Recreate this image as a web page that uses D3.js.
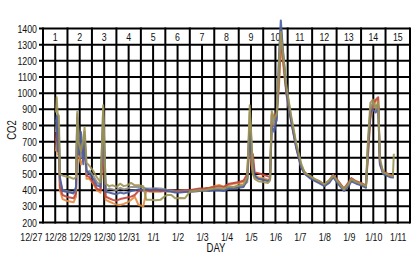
<!DOCTYPE html>
<html>
<head>
<meta charset="utf-8">
<script src="https://cdn.jsdelivr.net/npm/d3@7"></script>
<style>
  body { margin: 0; background: #fff; }
  svg { display: block; }
  text { font-family: "Liberation Sans", Arial, sans-serif; fill: #111; }
</style>
</head>
<body>
<div id="chart"></div>
<script>
// DATA
var dateLabels = ["12/27","12/28","12/29","12/30","12/31","1/1","1/2","1/3","1/4","1/5","1/6","1/7","1/8","1/9","1/10","1/11"];
var dayNumbers = ["1","2","3","4","5","6","7","8","9","10","11","12","13","14","15"];
var yTicks = [200,300,400,500,600,700,800,900,1000,1100,1200,1300,1400];

// sample times, in days from 12/27
var times = [1.03,1.06,1.10,1.15,1.19,1.3,1.45,1.6,1.75,1.85,
  1.9,1.95,2.05,2.15,2.2,2.28,2.4,2.55,2.7,2.85,
  2.92,2.96,3.02,3.06,3.2,3.35,3.5,3.65,3.8,3.95,
  4.1,4.25,4.4,4.6,4.72,4.9,5.1,5.3,5.5,5.6,
  5.75,5.9,6.1,6.3,6.5,6.7,6.9,7.1,7.3,7.5,
  7.7,7.9,8.1,8.3,8.5,8.7,8.85,8.95,9.02,9.08,
  9.15,9.3,9.5,9.7,9.78,9.85,9.95,10.05,10.15,10.22,
  10.3,10.45,10.65,10.85,11.05,11.2,11.4,11.6,11.8,12.0,
  12.2,12.36,12.55,12.8,13.0,13.1,13.3,13.5,13.7,13.78,
  13.88,13.98,14.1,14.2,14.27,14.4,14.55,14.7,14.8,14.84];

var olive = [880,975,870,860,500,490,485,480,470,480,
  885,700,640,720,790,570,550,520,480,450,
  700,925,600,440,425,430,420,440,425,430,
  445,430,430,425,340,340,338,340,365,370,
  370,350,352,350,390,395,398,400,405,410,
  415,410,425,420,430,435,480,925,720,500,
  470,455,450,445,460,890,840,870,1200,1380,
  1260,1040,855,690,566,505,490,470,455,435,
  460,490,455,405,440,470,450,440,425,700,
  940,960,900,950,600,510,500,490,485,625];

var blue = [820,860,640,780,480,395,390,385,380,420,
  850,620,760,560,700,520,500,470,430,420,
  650,855,560,390,385,380,375,385,380,385,
  395,400,405,400,405,400,405,400,400,395,
  390,385,385,388,390,392,395,398,395,400,
  398,395,410,412,415,420,470,760,600,560,
  490,470,465,455,470,800,760,840,1250,1450,
  1280,1000,820,660,540,500,475,458,442,425,
  445,480,440,395,425,455,440,430,415,650,
  880,900,880,920,560,500,490,480,478,478];

var gray = [760,830,870,700,460,400,395,390,385,400,
  870,780,600,700,760,500,520,490,450,430,
  720,910,640,400,410,405,400,415,405,410,
  420,420,420,415,410,410,412,410,405,400,
  395,390,390,392,392,398,400,402,400,405,
  405,402,415,420,425,428,450,880,700,520,
  480,470,465,460,470,860,810,830,1150,1400,
  1270,1030,840,680,555,500,480,462,448,430,
  452,485,448,400,435,462,445,435,420,680,
  900,940,920,930,580,505,495,485,482,482];

var red = [700,790,800,720,420,370,360,355,350,380,
  800,700,680,620,740,490,480,450,410,400,
  600,800,540,360,350,340,335,345,350,355,
  360,370,395,400,400,395,398,395,398,395,
  400,395,398,400,400,405,410,412,415,420,
  425,420,440,445,450,460,500,820,640,620,
  510,505,495,485,480,870,850,880,1100,1320,
  1230,1010,830,670,550,510,485,468,455,435,
  462,495,460,410,450,475,455,445,430,620,
  860,930,960,975,570,515,505,495,490,490];

var orange = [640,720,620,650,400,345,335,330,325,360,
  760,620,560,600,680,470,470,440,400,385,
  560,720,500,340,330,320,312,308,315,325,
  340,360,310,300,395,390,392,390,395,390,
  395,392,395,398,398,400,405,408,412,425,
  432,420,435,440,445,450,470,700,560,500,
  490,480,475,465,470,820,800,850,1050,1300,
  1200,990,820,665,545,505,482,465,452,432,
  458,490,455,408,445,470,452,440,425,600,
  840,910,950,960,560,510,500,490,488,488];

// drawn bottom to top
var seriesList = [
  { name: "orange", values: orange, color: "#e48a3c" },
  { name: "red",    values: red,    color: "#c4443a" },
  { name: "gray",   values: gray,   color: "#8e8c88" },
  { name: "blue",   values: blue,   color: "#4a5c9e" },
  { name: "olive",  values: olive,  color: "#9c9450" }
];

// LAYOUT
var width = 419, height = 259;
var squeeze = 0.8;   // the labels in the picture use a narrow face

var x = d3.scaleLinear().domain([0.5, 15.5]).range([43, 410]);
var y = d3.scaleLinear().domain([200, 1400]).range([222.5, 28.5]);

var svg = d3.select("#chart").append("svg")
  .attr("width", width)
  .attr("height", height);

// grid
var grid = svg.append("g").attr("class", "grid");

grid.selectAll("line.h")
  .data(yTicks)
  .enter().append("line")
  .attr("class", "h")
  .attr("x1", x(0.5) - 4)
  .attr("x2", x(15.5))
  .attr("y1", function(d) { return y(d); })
  .attr("y2", function(d) { return y(d); })
  .attr("stroke", "#000")
  .attr("stroke-width", 2);

var halfDays = d3.range(0.5, 15.51, 0.5);
grid.selectAll("line.v")
  .data(halfDays)
  .enter().append("line")
  .attr("class", "v")
  .attr("x1", function(d) { return x(d); })
  .attr("x2", function(d) { return x(d); })
  // whole-day lines stop under the day-number band
  .attr("y1", function(d) { return (d % 1 === 0) ? y(1300) : y(1400) - 1; })
  .attr("y2", y(200) + 1)
  .attr("stroke", "#000")
  .attr("stroke-width", 2);

// y axis labels
var yAxis = d3.axisLeft(y).tickValues(yTicks).tickFormat(d3.format("d")).tickSize(0).tickPadding(6);
svg.append("g")
  .attr("transform", "translate(" + x(0.5) + ",0)")
  .call(yAxis)
  .call(function(g) { g.select(".domain").remove(); })
  .selectAll("text")
  .attr("x", null)
  .attr("transform", "translate(-6,0) scale(" + squeeze + ",1)")
  .style("font-size", "11px")
  .style("font-family", null);

// date labels
var dateScale = d3.scalePoint().domain(dateLabels).range([x(0), x(15)]);
svg.append("g")
  .attr("transform", "translate(0," + (y(200) + 8) + ")")
  .call(d3.axisBottom(dateScale).tickSize(0).tickPadding(3))
  .call(function(g) { g.select(".domain").remove(); })
  .selectAll("text")
  .attr("transform", "scale(" + squeeze + ",1)")
  .style("font-size", "11px")
  .style("font-family", null);

// day numbers inside top band
svg.append("g").selectAll("text")
  .data(dayNumbers)
  .enter().append("text")
  .attr("transform", function(d, i) {
    return "translate(" + x(i + 1) + "," + ((y(1400) + y(1300)) / 2 + 4) + ") scale(" + squeeze + ",1)";
  })
  .attr("text-anchor", "middle")
  .style("font-size", "11px")
  .text(function(d) { return d; });

// axis titles
svg.append("text")
  .attr("transform", "translate(216,252) scale(" + squeeze + ",1)")
  .attr("text-anchor", "middle")
  .style("font-size", "12px")
  .text("DAY");

svg.append("text")
  .attr("transform", "translate(16,130) rotate(-90) scale(" + squeeze + ",1)")
  .attr("text-anchor", "middle")
  .style("font-size", "12px")
  .text("CO2");

// series lines
var line = d3.line()
  .x(function(d, i) { return x(times[i]); })
  .y(function(d) { return y(d); });

svg.append("g").selectAll("path")
  .data(seriesList)
  .enter().append("path")
  .attr("d", function(s) { return line(s.values); })
  .attr("fill", "none")
  .attr("stroke", function(s) { return s.color; })
  .attr("stroke-width", 2)
  .attr("stroke-linejoin", "round")
  .attr("opacity", 0.9);
</script>
</body>
</html>
